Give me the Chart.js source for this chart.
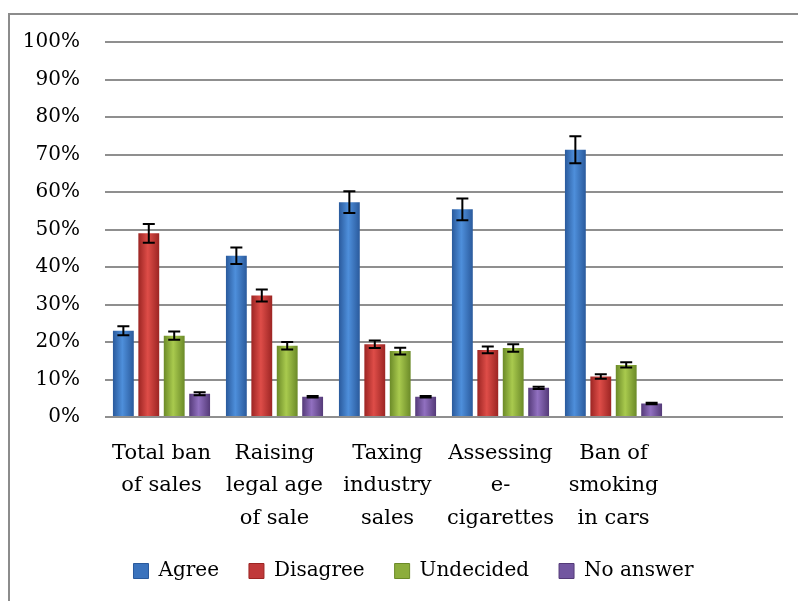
<!DOCTYPE html>
<html>
<head>
<meta charset="utf-8">
<script src="https://cdn.jsdelivr.net/npm/chart.js@4/dist/chart.umd.min.js"></script>
<style>
html,body{margin:0;padding:0;background:#fff;}
#wrap{width:798px;height:601px;position:relative;}
</style>
</head>
<body>
<div id="wrap"><canvas id="c" width="798" height="601"></canvas></div>
<script>
const categories = [["Total ban","of sales"],["Raising","legal age","of sale"],["Taxing","industry","sales"],["Assessing","e-","cigarettes"],["Ban of","smoking","in cars"],""];
const seriesNames = ["Agree","Disagree","Undecided","No answer"];
const agree      = [23.0, 43.0, 57.3, 55.4, 71.3, null];
const disagree   = [49.0, 32.4, 19.4, 17.9, 10.8, null];
const undecided  = [21.7, 19.0, 17.6, 18.4, 13.9, null];
const noAnswer   = [6.2, 5.4, 5.4, 7.8, 3.6, null];
const agreeErr     = [1.2, 2.2, 2.9, 2.9, 3.6, null];
const disagreeErr  = [2.5, 1.6, 1.0, 0.9, 0.6, null];
const undecidedErr = [1.1, 1.0, 0.9, 1.0, 0.7, null];
const noAnswerErr  = [0.4, 0.2, 0.2, 0.3, 0.2, null];
const yTicks = [0,10,20,30,40,50,60,70,80,90,100];

const seriesValues = [agree, disagree, undecided, noAnswer];
const seriesErrors = [agreeErr, disagreeErr, undecidedErr, noAnswerErr];
const palette = [
  {edge:"#2a5a9c", center:"#4e8fdb", solid:"#3b73bd"},
  {edge:"#9c2523", center:"#de4d48", solid:"#c0393a"},
  {edge:"#6b8a28", center:"#a9ca4e", solid:"#8cad3c"},
  {edge:"#543a78", center:"#9170c0", solid:"#7256a0"}
];
const CAT_PCT = 0.9, BAR_PCT = 0.82;

function gradFill(i){
  return (ctx) => {
    const chart = ctx.chart;
    const xs = chart.scales && chart.scales.x;
    if (!xs || !xs.width || ctx.type !== 'data') return palette[i].solid;
    const catW = xs.width / categories.length;
    const slot = catW * CAT_PCT / seriesNames.length;
    const cx = xs.getPixelForValue(ctx.dataIndex) - catW*CAT_PCT/2 + slot*(i+0.5);
    const w = slot * BAR_PCT;
    const g = chart.ctx.createLinearGradient(cx - w/2, 0, cx + w/2, 0);
    g.addColorStop(0, palette[i].edge);
    g.addColorStop(0.45, palette[i].center);
    g.addColorStop(1, palette[i].edge);
    return g;
  };
}

const errorBars = {
  id: 'errorBars',
  afterDatasetsDraw(chart){
    const c = chart.ctx, ys = chart.scales.y;
    c.save();
    c.strokeStyle = '#000';
    c.lineWidth = 2;
    chart.data.datasets.forEach((ds, i) => {
      const meta = chart.getDatasetMeta(i);
      meta.data.forEach((bar, j) => {
        const v = seriesValues[i][j], e = seriesErrors[i][j];
        if (v == null || e == null) return;
        const yT = ys.getPixelForValue(v + e), yB = ys.getPixelForValue(v - e);
        const x = bar.x, cap = 6;
        c.beginPath();
        c.moveTo(x, yT); c.lineTo(x, yB);
        c.moveTo(x - cap, yT); c.lineTo(x + cap, yT);
        c.moveTo(x - cap, yB); c.lineTo(x + cap, yB);
        c.stroke();
      });
    });
    c.restore();
  }
};

const frame = {
  id: 'frame',
  beforeDraw(chart){
    const c = chart.ctx;
    c.save();
    c.fillStyle = '#fff';
    c.fillRect(0,0,chart.width,chart.height);
    c.strokeStyle = '#8c8c8c';
    c.lineWidth = 2;
    c.beginPath();
    c.moveTo(9, chart.height); c.lineTo(9, 14); c.lineTo(chart.width, 14);
    c.stroke();
    c.restore();
  }
};

const legendShift = {
  id: 'legendShift',
  afterLayout(chart){
    if (chart.legend) { chart.legend.left += 22; chart.legend.right += 22; }
  }
};

const FONT = {family: "'DejaVu Serif', serif", size: 20};

new Chart(document.getElementById('c'), {
  type: 'bar',
  data: {
    labels: categories,
    datasets: seriesValues.map((vals, i) => ({
      label: seriesNames[i],
      data: vals,
      backgroundColor: gradFill(i),
      borderColor: palette[i].edge,
      borderWidth: 0,
      categoryPercentage: CAT_PCT,
      barPercentage: BAR_PCT
    }))
  },
  options: {
    responsive: false,
    animation: false,
    devicePixelRatio: 1,
    layout: {padding: {top: 42, right: 15, bottom: 10, left: 0}},
    plugins: {
      tooltip: {enabled: false},
      legend: {
        position: 'bottom',
        labels: {
          color: '#000',
          font: FONT,
          boxWidth: 15,
          boxHeight: 15,
          padding: 30,
          generateLabels(chart){
            return chart.data.datasets.map((ds, i) => ({
              text: ds.label,
              fillStyle: palette[i].solid,
              strokeStyle: palette[i].edge,
              lineWidth: 1,
              hidden: false,
              datasetIndex: i,
              fontColor: '#000'
            }));
          }
        }
      }
    },
    scales: {
      x: {
        grid: {display: false, drawTicks: false},
        border: {display: false},
        ticks: {color: '#000', font: {family: "'DejaVu Serif', serif", size: 21, lineHeight: 1.55}, padding: 20, maxRotation: 0, autoSkip: false},
        afterFit(s){ s.height = 114; }
      },
      y: {
        min: 0, max: 100,
        afterBuildTicks(s){ s.ticks = yTicks.map(v => ({value: v})); },
        grid: {color: '#8f8f8f', lineWidth: 2, drawTicks: false},
        border: {display: false},
        ticks: {color: '#000', font: FONT, padding: 25, callback: v => v + '%'},
        afterFit(s){ s.width = 105; }
      }
    }
  },
  plugins: [frame, errorBars, legendShift]
});
</script>
</body>
</html>
